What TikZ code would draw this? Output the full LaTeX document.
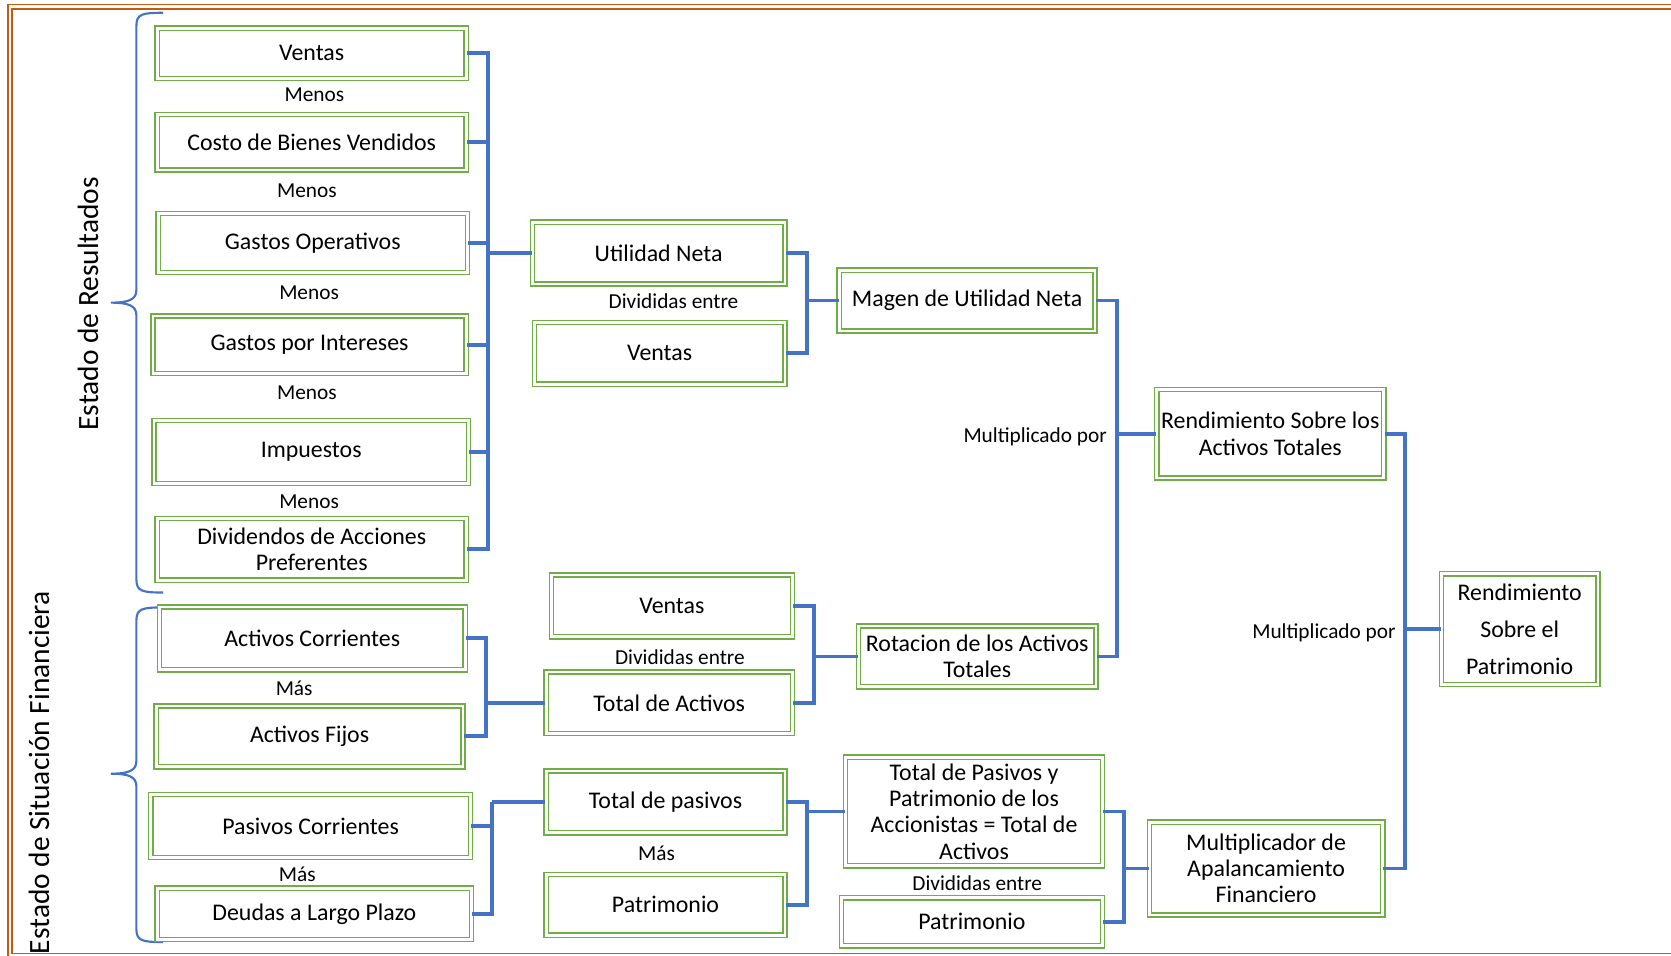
\documentclass[tikz,border=0pt]{standalone}
\usepackage{fontspec}
\setmainfont{Carlito}
\definecolor{boxgreen}{HTML}{70AD47}
\definecolor{linkblue}{HTML}{4472C4}
\definecolor{frameorange}{HTML}{C55A11}
\tikzset{
  box/.style n args={2}{draw=boxgreen, line width=0.65pt, double=white, double distance=1.3pt,
    minimum width=#1pt, minimum height=#2pt, inner sep=0pt, align=center,
    font=\fontsize{11.2}{12.3}\selectfont},
  conn/.style={draw=linkblue, line width=1.8pt, line join=miter},
  lbl/.style={font=\fontsize{10}{12}\selectfont, inner sep=0pt},
  side/.style={font=\fontsize{13.8}{16}\selectfont, rotate=90, anchor=base, inner sep=0pt},
  brace/.style={draw=linkblue, line width=1pt},
  frame/.style={draw=frameorange, line width=0.55pt, double=white, double distance=1.35pt}
}
\begin{document}
\begin{tikzpicture}[x=0.5pt,y=-0.5pt]
\useasboundingbox (0,0) rectangle (1568,897);
\fill[white] (0,0) rectangle (1568,897);
\draw[frame] (1600,6.5) -- (9.4,6.5) -- (9.4,896.5) -- (1600,896.5);

% side labels and braces
\node[side] (lres) at (92,285) {Estado de Resultados};
\node[side] (lsit) at (46,725) {Estado de Situación Financiera};
\draw[brace] (153,12) .. controls (134,12) and (128,13) .. (128,24) -- (128,272)
  .. controls (128,281) and (121,284) .. (104,284)
  .. controls (121,284) and (128,287) .. (128,296) -- (128,544)
  .. controls (128,555) and (134,556) .. (153,556);
\draw[brace] (153,570) .. controls (134,570) and (128,571) .. (128,582) -- (128,714)
  .. controls (128,723) and (121,726) .. (104,726)
  .. controls (121,726) and (128,729) .. (128,738) -- (128,872)
  .. controls (128,883) and (134,884) .. (153,884);

% left column
\node[box={145}{23.5}] (v1) at (292.5,50) {Ventas};
\node[lbl] (m1) at (295,89) {Menos};
\node[box={145}{26}] (cbv) at (292.5,133.5) {Costo de Bienes Vendidos};
\node[lbl] (m2) at (288,179) {Menos};
\node[box={145}{27.5}] (go) at (293.5,228) {Gastos Operativos};
\node[lbl] (m3) at (290,275) {Menos};
\node[box={147}{27}] (gi) at (290.5,323.5) {Gastos por Intereses};
\node[lbl] (m4) at (288,369) {Menos};
\node[box={147.5}{29.5}] (imp) at (292,424) {Impuestos};
\node[lbl] (m5) at (290,471) {Menos};
\node[box={145}{29}] (div) at (292.5,515.5) {Dividendos de Acciones\\Preferentes};
\node[box={143.5}{29.5}] (ac) at (293,599) {Activos Corrientes};
\node[lbl] (ma1) at (276,646) {Más};
\node[box={144}{28.5}] (af) at (290.5,691) {Activos Fijos};
\node[box={150}{29.5}] (pc) at (291.5,775) {Pasivos Corrientes};
\node[lbl] (ma2) at (279,820) {Más};
\node[box={147.5}{24}] (dlp) at (295,857.5) {Deudas a Largo Plazo};

% middle column
\node[box={118.5}{29}] (un) at (618,237.5) {Utilidad Neta};
\node[lbl] (d1) at (632,283) {Divididas entre};
\node[box={117.5}{29}] (vm) at (619,331.5) {Ventas};
\node[box={120}{28.5}] (mun) at (907.5,282) {Magen de Utilidad Neta};
\node[box={113}{29}] (vl) at (630.5,568.5) {Ventas};
\node[lbl] (d2) at (638,617) {Divididas entre};
\node[box={115.5}{29}] (ta) at (628,659.5) {Total de Activos};
\node[box={111.5}{28.5}] (rot) at (917,616) {Rotacion de los Activos\\Totales};
\node[box={112}{29}] (tp) at (624.5,752.5) {Total de pasivos};
\node[lbl] (ma3) at (616,801) {Más};
\node[box={112}{28.5}] (pm) at (624.5,849) {Patrimonio};
\node[box={120.5}{51}] (tpp) at (914,761.5) {Total de Pasivos y\\Patrimonio de los\\Accionistas = Total de\\Activos};
\node[lbl] (d3) at (917,829) {Divididas entre};
\node[box={122.5}{22.5}] (pl) at (912,865) {Patrimonio};

% right columns
\node[box={106.5}{41.5}] (rat) at (1192,407) {Rendimiento Sobre los\\Activos Totales};
\node[lbl, anchor=east] (mp1) at (1039,410) {Multiplicado por};
\node[box={109.5}{43.5}] (mult) at (1188,815) {Multiplicador de\\Apalancamiento\\Financiero};
\node[lbl, anchor=east] (mp2) at (1310,594) {Multiplicado por};
\node[box={73.5}{52}, font=\fontsize{11.2}{17.2}\selectfont] (rsp) at (1426,590.5) {Rendimiento\\Sobre el\\Patrimonio};

% junctions
\coordinate (j1) at (458,237.5);
\coordinate (j2) at (757,282);
\coordinate (j3) at (1048,407);
\coordinate (j4) at (456,659.5);
\coordinate (j5) at (764,616);
\coordinate (j6) at (462,752.5);
\coordinate (j7) at (757,761.5);
\coordinate (j8) at (1055,815);
\coordinate (j9) at (1318,590.5);

\foreach \n in {v1,cbv,go,gi,imp,div} {\draw[conn] (\n.east) -| (j1);}
\draw[conn] (j1) -- (un.west);
\draw[conn] (un.east) -| (j2);
\draw[conn] (vm.east) -| (j2);
\draw[conn] (j2) -- (mun.west);
\draw[conn] (mun.east) -| (j3);
\draw[conn] (rot.east) -| (j3);
\draw[conn] (j3) -- (rat.west);
\draw[conn] (ac.east) -| (j4);
\draw[conn] (af.east) -| (j4);
\draw[conn] (j4) -- (ta.west);
\draw[conn] (vl.east) -| (j5);
\draw[conn] (ta.east) -| (j5);
\draw[conn] (j5) -- (rot.west);
\draw[conn] (pc.east) -| (j6);
\draw[conn] (dlp.east) -| (j6);
\draw[conn] (j6) -- (tp.west);
\draw[conn] (tp.east) -| (j7);
\draw[conn] (pm.east) -| (j7);
\draw[conn] (j7) -- (tpp.west);
\draw[conn] (tpp.east) -| (j8);
\draw[conn] (pl.east) -| (j8);
\draw[conn] (j8) -- (mult.west);
\draw[conn] (rat.east) -| (j9);
\draw[conn] (mult.east) -| (j9);
\draw[conn] (j9) -- (rsp.west);
\end{tikzpicture}
\end{document}
